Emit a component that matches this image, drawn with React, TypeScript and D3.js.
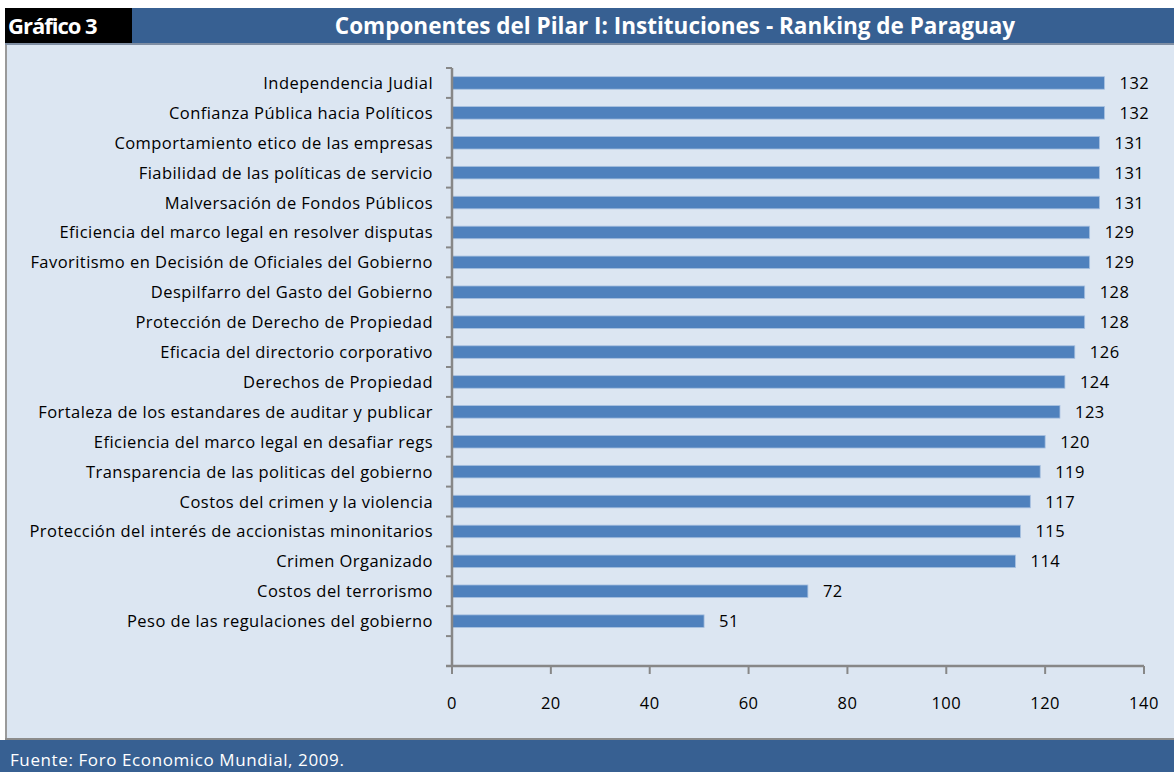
import React from 'react'
import { scaleLinear, scaleBand, range } from 'd3'

const categories = [
  'Independencia Judial',
  'Confianza Pública hacia Políticos',
  'Comportamiento etico de las empresas',
  'Fiabilidad de las políticas de servicio',
  'Malversación de Fondos Públicos',
  'Eficiencia del marco legal en resolver disputas',
  'Favoritismo en Decisión de Oficiales del Gobierno',
  'Despilfarro del Gasto del Gobierno',
  'Protección de Derecho de Propiedad',
  'Eficacia del directorio corporativo',
  'Derechos de Propiedad',
  'Fortaleza de los estandares de auditar y publicar',
  'Eficiencia del marco legal en desafiar regs',
  'Transparencia de las politicas del gobierno',
  'Costos del crimen y la violencia',
  'Protección del interés de accionistas minonitarios',
  'Crimen Organizado',
  'Costos del terrorismo',
  'Peso de las regulaciones del gobierno',
]
const ranking = [132, 132, 131, 131, 131, 129, 129, 128, 128, 126, 124, 123, 120, 119, 117, 115, 114, 72, 51]
const xTicks = [0, 20, 40, 60, 80, 100, 120, 140]

const chartTitle = 'Componentes del Pilar I: Instituciones - Ranking de Paraguay'
const chartTag = 'Gráfico 3'
const source = 'Fuente: Foro Economico Mundial, 2009.'

const W = 1174
const H = 772
const font = '"Open Sans", Lato, sans-serif'

const App = () => {
  const plotTop = 68
  const plotBottom = 666
  const left = 452
  const right = 1144
  // one empty slot under the last category, like the original
  const slots = categories.length + 1
  const step = (plotBottom - plotTop) / slots

  const x = scaleLinear().domain([0, 140]).range([left, right])
  const y = scaleBand()
    .domain(categories)
    .range([plotTop, plotBottom - step])
    .paddingInner(0.58)
    .paddingOuter(0.29)

  const axisColor = '#878787'

  return (
    <div style={{ position: 'absolute', left: 0, top: 0 }}>
      <svg width={W} height={H} style={{ display: 'block' }}>
        <rect x={0} y={0} width={W} height={H} fill="#ffffff" />
        {/* plot panel */}
        <rect x={5} y={44} width={W - 5} height={696} fill="#dce6f2" />
        <line x1={6} y1={44} x2={6} y2={740} stroke="#9a9a9a" strokeWidth={2} />
        <line x1={5} y1={739} x2={W} y2={739} stroke="#8c8c8c" strokeWidth={2} />
        {/* header */}
        <rect x={5} y={8} width={W - 5} height={36} fill="#376092" />
        <rect x={5} y={8} width={127} height={36} fill="#000000" />
        <line x1={5} y1={44} x2={W} y2={44} stroke="#7f8ea3" strokeWidth={2} />
        <text x={8} y={34} fill="#fff" fontFamily={font} fontWeight={700} fontSize={22} letterSpacing={-1}>
          {chartTag}
        </text>
        <text x={675} y={34} fill="#fff" fontFamily={font} fontWeight={700} fontSize={22.5} textAnchor="middle">
          {chartTitle}
        </text>
        {/* footer */}
        <rect x={0} y={740} width={W} height={H - 740} fill="#376092" />
        <text x={10} y={766} fill="#fff" fontFamily={font} fontSize={17} letterSpacing={0.6}>
          {source}
        </text>

        {/* bars */}
        {categories.map((c, i) => (
          <g key={c}>
            <rect
              x={x(0)}
              y={y(c)}
              width={x(ranking[i]) - x(0)}
              height={y.bandwidth()}
              fill="#4f81bd"
              stroke="#a9c1e0"
              strokeWidth={0.8}
            />
            <text
              x={x(ranking[i]) + 15}
              y={(y(c) as number) + y.bandwidth() / 2 + 6}
              fontFamily={font}
              fontSize={16.5}
              letterSpacing={0.5}
              fill="#000"
            >
              {ranking[i]}
            </text>
            <text
              x={433}
              y={(y(c) as number) + y.bandwidth() / 2 + 6}
              fontFamily={font}
              fontSize={16.5}
              letterSpacing={0.45}
              textAnchor="end"
              fill="#000"
            >
              {c}
            </text>
          </g>
        ))}

        {/* y axis */}
        <line x1={left} y1={plotTop} x2={left} y2={plotBottom} stroke={axisColor} strokeWidth={2.5} />
        {range(slots + 1).map(k => (
          <line
            key={k}
            x1={left - 6}
            x2={left}
            y1={plotTop + k * step}
            y2={plotTop + k * step}
            stroke={axisColor}
            strokeWidth={2}
          />
        ))}
        {/* x axis */}
        <line x1={left - 6} y1={plotBottom} x2={right} y2={plotBottom} stroke={axisColor} strokeWidth={2.5} />
        {xTicks.map(t => (
          <g key={t}>
            <line x1={x(t)} x2={x(t)} y1={plotBottom} y2={plotBottom + 8} stroke={axisColor} strokeWidth={2} />
            <text x={x(t)} y={709} fontFamily={font} fontSize={16.5} letterSpacing={0.5} textAnchor="middle" fill="#000">
              {t}
            </text>
          </g>
        ))}
      </svg>
    </div>
  )
}

export default App
